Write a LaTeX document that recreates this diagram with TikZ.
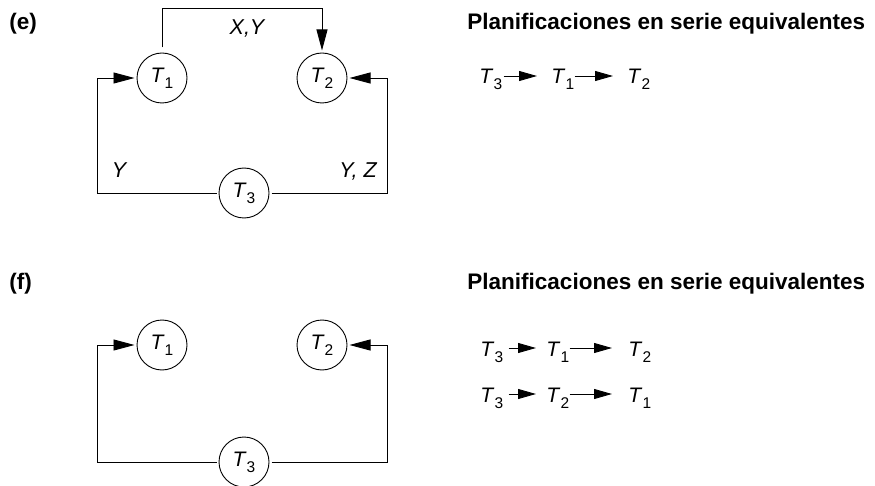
\documentclass[tikz,border=0pt]{standalone}
\usepackage{fontspec}
\setmainfont{Liberation Sans}
\usetikzlibrary{arrows.meta,calc}
\newcommand\Tn[1]{\textit{T}\raisebox{-6pt}{\fontsize{15.5}{16}\selectfont #1}}
\tikzset{
  circ/.style={draw, circle, minimum size=50pt, inner sep=0pt, outer sep=2.5pt},
  arr/.style={-{Triangle[length=21pt,width=11pt]}},
  sarr/.style={-{Triangle[length=18pt,width=10pt]}, shorten >=14pt},
  lbl/.style={anchor=base, font=\fontsize{21.5}{26}\selectfont\itshape, inner sep=0pt},
  ttl/.style={anchor=base west, font=\fontsize{22.5}{27}\selectfont\bfseries, inner sep=0pt},
  ser/.style={anchor=base west, inner sep=0pt},
}
\begin{document}
\begin{tikzpicture}[x=1pt, y=-1pt, line width=0.9pt, font=\fontsize{21}{25}\selectfont]
\useasboundingbox (0,0) rectangle (875,486);
% ---------- (e)
\node[ttl] (elab) at (9,30) {(e)};
\node[circ] (e1) at (162,78) {\Tn1};
\node[circ] (e2) at (322,78) {\Tn2};
\node[circ] (e3) at (244,193) {\Tn3};
\coordinate (etop) at (0,8);
\coordinate (eL) at (97,0);
\coordinate (eR) at (387,0);
\draw[arr, shorten <=3pt] (e1.north) -- (e1.north |- etop) -| (e2.north);
\draw[arr] (e3.west) -| (eL |- e1.west) -- (e1.west);
\draw[arr] (e3.east) -| (eR |- e2.east) -- (e2.east);
\node[lbl] (exy) at (247,35) {X,Y};
\node[lbl] (ey) at (119,178) {Y};
\node[lbl] (eyz) at (358,178) {Y, Z};
\node[ttl] (etitle) at (467,30) {Planificaciones en serie equivalentes};
\node[ser] (ea) at (479,84) {\Tn3};
\node[ser] (eb) at (551,84) {\Tn1};
\node[ser] (ec) at (627,84) {\Tn2};
\draw[sarr] ($(ea.base east)+(1,-8)$) -- ($(eb.base west)+(0,-8)$);
\draw[sarr] ($(eb.base east)+(0,-8)$) -- ($(ec.base west)+(0,-8)$);
% ---------- (f)
\node[ttl] (flab) at (9,290) {(f)};
\node[circ] (f1) at (162,345) {\Tn1};
\node[circ] (f2) at (322,345) {\Tn2};
\node[circ] (f3) at (244,462) {\Tn3};
\coordinate (fL) at (97,0);
\coordinate (fR) at (387,0);
\draw[arr] (f3.west) -| (fL |- f1.west) -- (f1.west);
\draw[arr] (f3.east) -| (fR |- f2.east) -- (f2.east);
\node[ttl] (ftitle) at (467,290) {Planificaciones en serie equivalentes};
\node[ser] (fa) at (480,356) {\Tn3};
\node[ser] (fb) at (546,356) {\Tn1};
\node[ser] (fc) at (628,356) {\Tn2};
\draw[sarr, shorten >=10pt] ($(fa.base east)+(5,-8)$) -- ($(fb.base west)+(0,-8)$);
\draw[sarr, shorten >=16pt] ($(fb.base east)+(0,-8)$) -- ($(fc.base west)+(0,-8)$);
\node[ser] (fd) at (480,402) {\Tn3};
\node[ser] (fe) at (546,402) {\Tn2};
\node[ser] (ff) at (628,402) {\Tn1};
\draw[sarr, shorten >=10pt] ($(fd.base east)+(5,-8)$) -- ($(fe.base west)+(0,-8)$);
\draw[sarr, shorten >=16pt] ($(fe.base east)+(0,-8)$) -- ($(ff.base west)+(0,-8)$);
\end{tikzpicture}
\end{document}
